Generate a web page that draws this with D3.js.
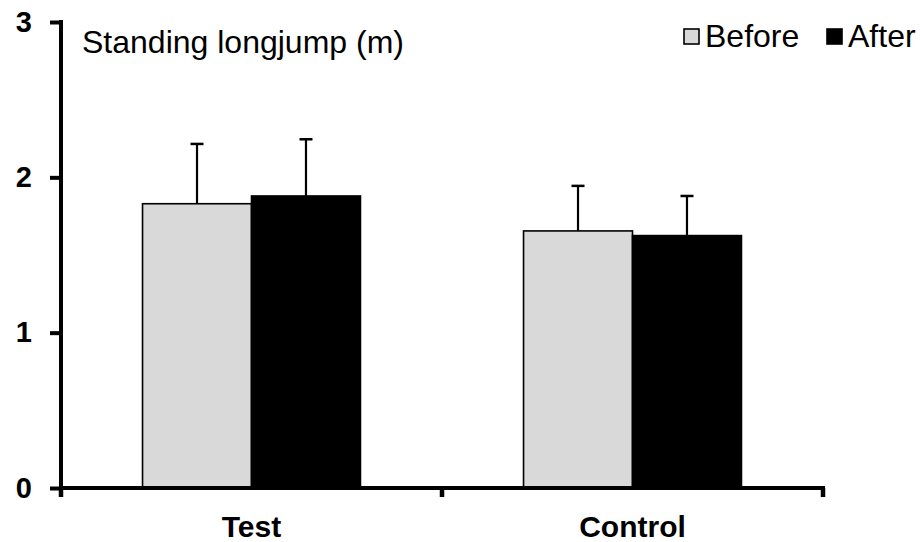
<!DOCTYPE html>
<html>
<head>
<meta charset="utf-8">
<script src="https://cdn.jsdelivr.net/npm/d3@7"></script>
<style>
  html, body { margin: 0; padding: 0; background: #fff; }
  svg { display: block; font-family: "Liberation Sans", Arial, sans-serif; }
</style>
</head>
<body>
<svg id="chart" width="921" height="542"></svg>
<script>
const categories = ["Test", "Control"];
const seriesNames = ["Before", "After"];
const beforeValues = [1.83, 1.655];
const afterValues = [1.88, 1.625];
const beforeErrors = [0.385, 0.29];
const afterErrors = [0.365, 0.255];
const yTicks = [0, 1, 2, 3];
const title = "Standing longjump (m)";

const colors = { Before: "#d9d9d9", After: "#000000" };
const valuesBy = { Before: beforeValues, After: afterValues };
const errorsBy = { Before: beforeErrors, After: afterErrors };

const svg = d3.select("#chart");
const plot = { left: 61, right: 823, top: 22, bottom: 488 };

const y = d3.scaleLinear().domain([0, 3]).range([plot.bottom, plot.top]);
const x0 = d3.scaleBand().domain(categories).range([plot.left, plot.right]).padding(0);
const x1 = d3.scaleBand().domain(seriesNames)
  .range([x0.bandwidth() * 0.214, x0.bandwidth() * 0.786]).padding(0);

const groups = svg.append("g").selectAll("g")
  .data(categories).join("g")
  .attr("transform", d => `translate(${x0(d)},0)`);

const barData = (c, i) => seriesNames.map(s => ({ s, v: valuesBy[s][i], e: errorsBy[s][i] }));

groups.each(function(c, i) {
  const g = d3.select(this);
  const data = barData(c, i);
  g.selectAll("line.err").data(data).join("line")
    .attr("class", "err")
    .attr("x1", d => x1(d.s) + x1.bandwidth() / 2)
    .attr("x2", d => x1(d.s) + x1.bandwidth() / 2)
    .attr("y1", d => y(d.v))
    .attr("y2", d => y(d.v + d.e))
    .attr("stroke", "#000").attr("stroke-width", 2.2);
  g.selectAll("line.cap").data(data).join("line")
    .attr("class", "cap")
    .attr("x1", d => x1(d.s) + x1.bandwidth() / 2 - 6.5)
    .attr("x2", d => x1(d.s) + x1.bandwidth() / 2 + 6.5)
    .attr("y1", d => y(d.v + d.e))
    .attr("y2", d => y(d.v + d.e))
    .attr("stroke", "#000").attr("stroke-width", 2.5);
  g.selectAll("rect").data(data).join("rect")
    .attr("x", d => x1(d.s))
    .attr("width", x1.bandwidth())
    .attr("y", d => y(d.v))
    .attr("height", d => y(0) - y(d.v))
    .attr("fill", d => colors[d.s])
    .attr("stroke", "#000").attr("stroke-width", 1.6);
});

// Y axis
const yAxis = svg.append("g")
  .attr("transform", `translate(${plot.left},0)`)
  .call(d3.axisLeft(y).tickValues(yTicks).tickFormat(d3.format("d")).tickSize(11).tickSizeOuter(0).tickPadding(18));
yAxis.select(".domain").attr("stroke", "#000").attr("stroke-width", 4)
  .attr("d", `M0,${plot.top - 2}V${plot.bottom + 2}`);
yAxis.selectAll(".tick line").attr("stroke", "#000").attr("stroke-width", 4);
yAxis.selectAll(".tick text")
  .attr("font-size", 29).attr("font-weight", "bold").attr("fill", "#000")
  .attr("font-family", "Liberation Sans, Arial, sans-serif");

// X axis with ticks between categories
const xAxis = svg.append("g").attr("transform", `translate(0,${plot.bottom})`);
xAxis.append("line")
  .attr("x1", plot.left - 2).attr("x2", plot.right + 2)
  .attr("y1", 0).attr("y2", 0)
  .attr("stroke", "#000").attr("stroke-width", 4);
const boundaries = categories.map(c => x0(c)).concat([x0(categories[categories.length - 1]) + x0.bandwidth()]);
xAxis.selectAll("line.tk").data(boundaries).join("line")
  .attr("class", "tk")
  .attr("x1", d => d).attr("x2", d => d)
  .attr("y1", 0).attr("y2", 9)
  .attr("stroke", "#000").attr("stroke-width", 4.5);
xAxis.selectAll("text").data(categories).join("text")
  .attr("x", d => x0(d) + x0.bandwidth() / 2)
  .attr("y", 49)
  .attr("text-anchor", "middle")
  .attr("font-size", 30).attr("font-weight", "bold").attr("fill", "#000")
  .text(d => d);

// Title
svg.append("text")
  .attr("x", 82).attr("y", 53)
  .attr("font-size", 32).attr("fill", "#000")
  .text(title);

// Legend
const legendPos = { Before: 684, After: 827 };
const legend = svg.append("g");
seriesNames.forEach(s => {
  legend.append("rect")
    .attr("x", legendPos[s]).attr("y", 29)
    .attr("width", 15).attr("height", 15)
    .attr("fill", colors[s]).attr("stroke", "#000").attr("stroke-width", 1.6);
  legend.append("text")
    .attr("x", legendPos[s] + 21).attr("y", 47)
    .attr("font-size", 32).attr("fill", "#000")
    .text(s);
});
</script>
</body>
</html>
